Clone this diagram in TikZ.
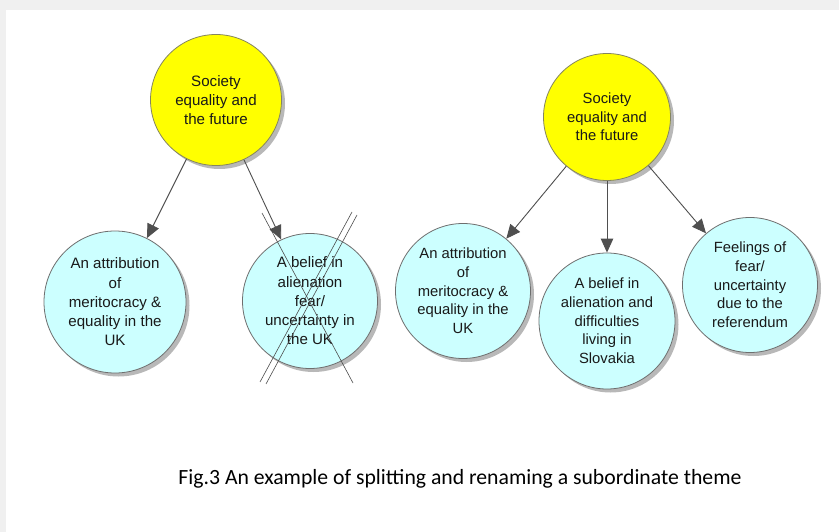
\documentclass[tikz,border=0pt]{standalone}
\usepackage{fontspec}
\setmainfont{Liberation Sans}
\newfontfamily\capfont{Carlito}
\usetikzlibrary{arrows.meta,shadows}
\definecolor{themeyellow}{HTML}{FFFF00}
\definecolor{themecyan}{HTML}{CCFFFF}
\definecolor{yellowedge}{HTML}{858560}
\definecolor{cyanedge}{HTML}{6E6E6E}
\definecolor{linkgray}{HTML}{4F4F4F}
\tikzset{
  themebase/.style={circle, inner sep=0pt, align=center, text=black!90,
    drop shadow={shadow xshift=3.5pt, shadow yshift=-3.5pt, opacity=0.28, fill=black}},
  topic/.style={themebase, fill=themeyellow, draw=yellowedge, line width=0.8pt},
  subtheme/.style={themebase, fill=themecyan, draw=cyanedge, line width=0.8pt},
  link/.style={draw=linkgray, line width=0.9pt,
    -{Triangle[length=14pt, width=12.5pt, fill=linkgray]}},
  crossout/.style={draw=black!70, line width=0.6pt},
  lfont/.style={font=\fontsize{15.1}{19.3}\selectfont},
  rfont/.style={font=\fontsize{14.8}{18.7}\selectfont}
}
\begin{document}
\begin{tikzpicture}[x=1pt, y=-1pt]
\useasboundingbox (0,0) rectangle (839,532);
% page background and white sheet
\fill[black!6] (0,0) rectangle (839,532);
\fill[white] (6,10) rectangle (839,532);

% ---- first version of the theme map ----
\node[topic, lfont, minimum size=131pt] (ya) at (216,100) {Society\\equality and\\the future};
\node[subtheme, lfont, minimum size=142pt] (ca) at (115,302) {An attribution\\of\\meritocracy \&\\equality in the\\UK};
\node[subtheme, lfont, minimum size=135pt] (cb) at (310,301) {A belief in\\alienation\\fear/\\uncertainty in\\the UK};

\draw[link] (ya) -- (ca);
\draw[link] (ya) -- (cb);

% the theme that gets split is struck through
\draw[crossout] (262,213) -- (353,383);
\draw[crossout] (352,212) -- (260,382);
\draw[crossout] (357,215) -- (266,384);

% ---- revised version of the theme map ----
\node[topic, rfont, minimum size=127pt] (yb) at (607,117) {Society\\equality and\\the future};
\node[subtheme, rfont, minimum size=135pt] (da) at (463,291) {An attribution\\of\\meritocracy \&\\equality in the\\UK};
\node[subtheme, rfont, minimum size=136pt] (db) at (607,321) {A belief in\\alienation and\\difficulties\\living in\\Slovakia};
\node[subtheme, rfont, minimum size=135pt] (dc) at (750,285) {Feelings of\\fear/\\uncertainty\\due to the\\referendum};

\draw[link] (yb) -- (da);
\draw[link] (yb) -- (db);
\draw[link] (yb) -- (dc);

% caption
\node[font=\capfont\fontsize{21.7}{26}\selectfont, inner sep=0pt] (cap) at (460,479)
  {Fig.3 An example of splitting and renaming a subordinate theme};
\end{tikzpicture}
\end{document}
